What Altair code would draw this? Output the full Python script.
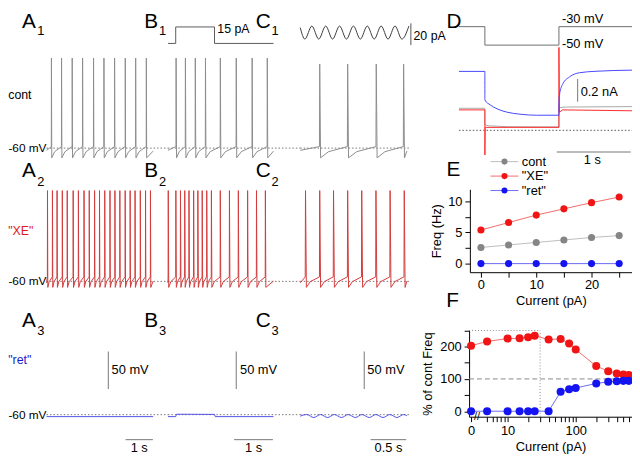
import altair as alt
import pandas as pd

FONT = "Liberation Sans"

# ================= values =================
ROW_LABELS = ["cont", '"XE"', '"ret"']
ROW_LABEL_COLORS = ["#000000", "#e01818", "#1a1acc"]
TRACE_COLORS = ["#8c8c8c", "#d23c3c", "#5050e6"]

# spike times (s)
A1_SPIKES = [0.18, 0.55, 0.94, 1.32, 1.72, 2.10, 2.49, 2.88, 3.26, 3.65]
B1_SPIKES = [0.21, 0.45, 0.705, 0.967, 1.35, 1.76, 2.17, 2.56]
C1_SPIKES = [0.274, 0.667, 1.069, 1.454]
A2_SPIKES = [0.036, 0.217, 0.386, 0.578, 0.758, 0.975, 1.166, 1.372, 1.563, 1.758,
             1.938, 2.13, 2.321, 2.502, 2.682, 2.877, 3.058, 3.238, 3.43, 3.621, 3.801]
B2_SPIKES = [0.008, 0.204, 0.323, 0.433, 0.542, 0.662, 0.771, 0.883, 1.0, 1.12,
             1.349, 1.585, 1.814, 2.053, 2.282, 2.511]
C2_SPIKES = [0.074, 0.274, 0.468, 0.667, 0.865, 1.065, 1.264, 1.463]
DURATION = {"A": 3.9, "B": 2.72, "C": 1.5}
# membrane levels (mV): start, threshold, peak, trough
ROW1_LEVELS = (-63, -58, 60, -73)
ROW2_LEVELS = (-62, -54, 61, -68)
C1_PEAK = 52

# B: 1 s current step of 15 pA
STEP_T = [0.0, 0.2, 0.2, 1.2, 1.2, 2.72]
STEP_I = [0, 0, 15, 15, 0, 0]
# C: sinusoidal current, extrema (pA)
SINE_T = [0.0, 0.065, 0.163, 0.26, 0.358, 0.455, 0.553, 0.65, 0.748, 0.845, 0.943,
          1.04, 1.138, 1.235, 1.333, 1.43, 1.528]
SINE_I = [4.5, -6, 6, -6, 6, -6, 6, -6, 6, -6, 6, -6, 6, -6, 6, -6, 6]
# "ret" traces (mV)
RET_A_T = [0.0, 3.9]
RET_A_V = [-62.6, -62.6]
RET_B_T = [0.0, 0.2, 0.22, 1.2, 1.22, 2.72]
RET_B_V = [-62.6, -62.6, -59.4, -59.6, -62.6, -62.6]
RET_C_T = [0.0, 0.09, 0.19, 0.285, 0.385, 0.48, 0.58, 0.675, 0.775, 0.87, 0.97,
           1.065, 1.165, 1.26, 1.36, 1.455, 1.5]
RET_C_V = [-62, -59.8, -63.8, -59.8, -63.8, -59.8, -63.8, -59.8, -63.8, -59.8, -63.8,
           -59.8, -63.8, -59.8, -63.8, -59.8, -61.5]

# D: voltage-clamp (command in mV, currents in nA)
D_CMD_T = [-0.35, 0, 0, 1, 1, 1.99]
D_CMD_V = [-30, -30, -50, -50, -30, -30]
D_BLUE_T = [-0.35, 0, 0, 0.075, 0.165, 0.298, 0.476, 0.698, 1.0, 1.0, 1.009, 1.053,
            1.142, 1.276, 1.5, 1.99]
D_BLUE_I = [0.519, 0.519, 0.267, 0.223, 0.189, 0.16, 0.142, 0.133, 0.133, 0.25, 0.32,
            0.41, 0.47, 0.507, 0.52, 0.53]
D_RED_T = [-0.35, 0, 0, 0.004, 0.02, 1.0, 1.0, 1.006, 1.05, 1.99]
D_RED_I = [0.18, 0.18, -0.217, 0.03, 0.026, 0.026, 0.73, 0.16, 0.18, 0.172]
D_GRAY_T = [-0.35, 0, 0, 0.05, 0.3, 1.0, 1.0, 1.1, 1.99]
D_GRAY_I = [0.194, 0.194, 0.05, 0.04, 0.032, 0.03, 0.2, 0.205, 0.209]

# E: firing frequency (Hz) vs injected current (pA)
E_CURRENT = [0, 5, 10, 15, 20, 25]
E_CONT = [2.6, 3.0, 3.4, 3.8, 4.2, 4.5]
E_XE = [5.4, 6.6, 7.8, 8.8, 9.8, 10.7]
E_RET = [0, 0, 0, 0, 0, 0]

# F: % of control frequency vs current (pA)
F_CURRENT = [0, 5, 10, 15, 20, 25, 40, 60, 80, 100, 200, 300, 400, 500, 600]
F_XE = [203, 216, 225, 226, 229, 234, 222, 224, 210, 191, 140, 124, 117, 114, 112]
F_RET = [0, 0, 0, 0, 0, 0, 0, 60, 68, 72, 86, 91, 93, 94, 94]
ZERO_POS = 2.91  # where the "0" of the broken log axis sits

SERIES = ["cont", '"XE"', '"ret"']
LINE_COLORS = ["#bdbdbd", "#f26b6b", "#6b6bf2"]
DOT_COLORS = ["#858585", "#f01414", "#1414f0"]

# ================= layout helpers (reference px -> chart px) =================
W, H = 632, 451


def LX(x):
    return x - 6.0


def RX(x):
    return x - 8.0


def Y(y):
    return y - 8.0


def lin(d0, d1, p0, p1):
    return alt.Scale(type="linear", domain=[d0, d1], range=[p0, p1], nice=False, zero=False)


def panel(xs, ys, xa=None, ya=None):
    return {"xs": xs, "ys": ys, "xa": xa, "ya": ya}


def xe(p, f="t"):
    return alt.X(f + ":Q", scale=p["xs"], axis=p["xa"])


def ye(p, f="v"):
    return alt.Y(f + ":Q", scale=p["ys"], axis=p["ya"])


def line(p, ts, vs, color, width=1.0, dash=None, interp="linear"):
    df = pd.DataFrame({"t": ts, "v": vs, "i": list(range(len(ts)))})
    kw = {"color": color, "strokeWidth": width, "interpolate": interp}
    if dash is not None:
        kw["strokeDash"] = dash
    return alt.Chart(df).mark_line(**kw).encode(x=xe(p), y=ye(p), order="i:Q")


def segs(p, rows, color, width=1.0, dash=None):
    df = pd.DataFrame(rows, columns=["t", "v", "t2", "v2"])
    kw = {"color": color, "strokeWidth": width}
    if dash is not None:
        kw["strokeDash"] = dash
    return alt.Chart(df).mark_rule(**kw).encode(x=xe(p), y=ye(p), x2="t2:Q", y2="v2:Q")


def texts(p, rows, size=13, color="black", align="left", baseline="middle"):
    df = pd.DataFrame(rows, columns=["t", "v", "label"])
    return alt.Chart(df).mark_text(font=FONT, fontSize=size, color=color, align=align,
                                   baseline=baseline).encode(x=xe(p), y=ye(p), text="label:N")


def dots(p, ts, vs, color, size):
    df = pd.DataFrame({"t": ts, "v": vs})
    return alt.Chart(df).mark_circle(color=color, size=size, opacity=1).encode(x=xe(p), y=ye(p))


def letter(p, t, v, t2, v2, L, sub):
    return [texts(p, [(t, v, L)], size=21, baseline="alphabetic"),
            texts(p, [(t2, v2, sub)], size=13, baseline="alphabetic")]


def spike_trace(spikes, t_end, levels, peak=None):
    v0, thr, pk, trough = levels
    if peak is not None:
        pk = peak
    ts, vs = [0.0], [v0]
    for k, s in enumerate(spikes):
        ts += [max(s - 0.004, 0.001), s, s + 0.012]
        vs += [thr, pk, trough]
        if k + 1 < len(spikes):
            nxt = spikes[k + 1]
            ts.append(s + 0.012 + 0.3 * (nxt - s - 0.016))
            vs.append(trough + 0.55 * (thr - trough))
        else:
            ts.append(t_end)
            vs.append(trough + 0.6 * (thr - trough))
    return ts, vs


# ================= trace panels (A, B, C x 3 rows) =================
ROW_BASE = [147, 282, 417]
MV_PX = 0.76
XS = {
    "A": lin(0, 1, LX(45), LX(45 + 27.7)),
    "B": lin(0, 1, LX(168), LX(168 + 39.3)),
    "C": lin(0, 1, LX(302), LX(302 + 72)),
}
DOT_END = {"A": 4.44, "B": 3.41, "C": 1.53}
LETTER_X = {"A": (-0.90, -0.343), "B": (-0.611, -0.229), "C": (-0.625, -0.403)}
LETTER_V = [(100.5, 91.3), (79.5, 67.6), (57.1, 46.6)]
ROW_LABEL_V = [11.05, 7.1, 12.4]

SPIKES = [
    {"A": A1_SPIKES, "B": B1_SPIKES, "C": C1_SPIKES},
    {"A": A2_SPIKES, "B": B2_SPIKES, "C": C2_SPIKES},
]

groups = []
for r in range(3):
    base = ROW_BASE[r]
    ys = lin(-60, 40, Y(base), Y(base - 100 * MV_PX))
    for col in ["A", "B", "C"]:
        p = panel(XS[col], ys)
        layers = [segs(p, [(0, -60, DOT_END[col], -60)], "#777777", 1, [1.5, 2])]
        if r < 2:
            lv = ROW1_LEVELS if r == 0 else ROW2_LEVELS
            pk = C1_PEAK if (r == 0 and col == "C") else None
            ts, vs = spike_trace(SPIKES[r][col], DURATION[col], lv, pk)
            layers.append(line(p, ts, vs, TRACE_COLORS[r], 1.0))
        else:
            if col == "A":
                layers.append(line(p, RET_A_T, RET_A_V, TRACE_COLORS[2], 1.0))
            elif col == "B":
                layers.append(line(p, RET_B_T, RET_B_V, TRACE_COLORS[2], 1.0))
            else:
                layers.append(line(p, RET_C_T, RET_C_V, TRACE_COLORS[2], 1.0, interp="monotone"))
        lx = LETTER_X[col]
        lv_ = LETTER_V[r]
        layers += letter(p, lx[0], lv_[0], lx[1], lv_[1], col, str(r + 1))
        if col == "A":
            layers.append(texts(p, [(-0.0, -60, "-60 mV")], size=12, align="right"))
            layers.append(texts(p, [(-1.40, ROW_LABEL_V[r], ROW_LABELS[r])], size=12.5,
                                color=ROW_LABEL_COLORS[r]))
        if r == 2:
            bar = {"A": (2.26, 2.38, 2.89, 3.89, "1 s"),
                   "B": (1.76, 1.857, 1.705, 2.705, "1 s"),
                   "C": (0.90, 0.944, 0.99, 1.49, "0.5 s")}[col]
            layers.append(segs(p, [(bar[0], -25.8, bar[0], 24.2),
                                   (bar[2], -93.3, bar[3], -93.3)], "#777777", 1))
            layers.append(texts(p, [(bar[1], -0.8, "50 mV")], size=13))
            layers.append(texts(p, [((bar[2] + bar[3]) / 2, -104.7, bar[4])], size=13,
                                align="center"))
        groups.append(alt.layer(*layers))

# stimulus insets (row 1)
pS = panel(XS["B"], lin(0, 15, Y(41), Y(24.3)))
groups.append(alt.layer(line(pS, STEP_T, STEP_I, "#5a5a5a", 1.0),
                        texts(pS, [(1.272, 12.8, "15 pA")], size=12.5)))
pC = panel(XS["C"], lin(0, 10, Y(30), Y(19)))
groups.append(alt.layer(line(pC, SINE_T, SINE_I, "#3c3c3c", 1.0, interp="monotone"),
                        segs(pC, [(1.556, -11.5, 1.556, 8.5)], "#555555", 1),
                        texts(pC, [(1.593, -3, "20 pA")], size=12.5)))

# ================= D =================
DX = lin(0, 1, RX(491), RX(566))
pDc = panel(DX, lin(-50, -30, Y(42.7), Y(24)))
groups.append(alt.layer(
    line(pDc, D_CMD_T, D_CMD_V, "#6e6e6e", 1.0),
    texts(pDc, [(1.04, -21.5, "-30 mV"), (1.04, -49.3, "-50 mV")], size=13),
))
pDi = panel(DX, lin(0, 0.2, Y(129), Y(106)))
groups.append(alt.layer(
    segs(pDi, [(-0.35, 0, 1.99, 0)], "#555555", 1, [1.5, 2]),
    line(pDi, D_GRAY_T, D_GRAY_I, "#a8a8a8", 1.0),
    line(pDi, D_RED_T, D_RED_I, "#ff2a2a", 1.0),
    line(pDi, D_BLUE_T, D_BLUE_I, "#4646ff", 1.0, interp="monotone"),
    segs(pDi, [(1.253, 0.252, 1.253, 0.452), (0.97, -0.191, 1.97, -0.191)], "#777777", 1),
    texts(pDi, [(1.293, 0.339, "0.2 nA")], size=13),
    texts(pDi, [(1.45, -0.261, "1 s")], size=13, align="center"),
    texts(pDi, [(-0.52, 0.904, "D")], size=21, baseline="alphabetic"),
))

# ================= E =================
E_XAXIS = alt.Axis(orient="bottom", offset=-(H - Y(272.7)), values=[0, 5, 10, 15, 20, 25],
                   labelExpr="datum.value % 10 == 0 ? datum.label : ''",
                   title="Current (pA)", grid=False, tickSize=5, labelPadding=2,
                   titlePadding=3)
E_YAXIS = alt.Axis(orient="left", offset=-RX(475.8), values=[0, 2.5, 5, 7.5, 10],
                   labelExpr="datum.value % 5 == 0 ? datum.label : ''",
                   title="Freq (Hz)", grid=False, tickSize=5, labelPadding=3,
                   titlePadding=4)
pE = panel(lin(-2, 27.3, RX(475.8), RX(639.9)), lin(-1.38, 11.95, Y(272.7), Y(188.7)),
           E_XAXIS, E_YAXIS)
e_layers = []
for vals, lc in zip([E_CONT, E_XE, E_RET], LINE_COLORS):
    e_layers.append(line(pE, E_CURRENT, vals, lc, 1.0))
for vals, dc in zip([E_CONT, E_XE, E_RET], DOT_COLORS):
    e_layers.append(dots(pE, E_CURRENT, vals, dc, 52))
e_layers.append(texts(pE, [(-6.25, 14.1, "E")], size=21, baseline="alphabetic"))
groups.append(alt.layer(*e_layers))

# legend of E
pL = panel(lin(0, 1, RX(496.7), RX(525)), lin(0, 2, Y(160.7), Y(190)))
leg = []
for k, name in enumerate(SERIES):
    leg.append(segs(pL, [(0, k, 1, k)], LINE_COLORS[k], 1))
    leg.append(dots(pL, [0.5], [k], DOT_COLORS[k], 38))
    leg.append(texts(pL, [(1.12, k, name)], size=13))
groups.append(alt.layer(*leg))

# ================= F =================
F_X = [ZERO_POS if c == 0 else c for c in F_CURRENT]
F_TICKS = [ZERO_POS, 5, 6, 7, 8, 9, 10, 20, 30, 40, 50, 60, 70, 80, 90, 100,
           200, 300, 400, 500, 600]
F_XAXIS = alt.Axis(orient="bottom", offset=-(H - Y(419.06)), values=F_TICKS,
                   labelExpr="datum.value < 4 ? '0' : (datum.value == 10 || datum.value == 100) ? format(datum.value, 'd') : ''",
                   title="Current (pA)", grid=False, tickSize=5, labelPadding=3,
                   titlePadding=3)
F_YAXIS = alt.Axis(orient="left", offset=-RX(475), values=[0, 50, 100, 150, 200, 250],
                   labelExpr="datum.value % 100 == 0 ? datum.label : ''",
                   title="% of cont Freq", grid=False, tickSize=5, labelPadding=3,
                   titlePadding=5)
pF = panel(alt.Scale(type="log", domain=[2.72, 670], range=[RX(475), RX(640)], nice=False),
           lin(-17, 250, Y(419.06), Y(331.75)), F_XAXIS, F_YAXIS)
groups.append(alt.layer(
    segs(pF, [(2.72, 250, 30, 250), (30, -17, 30, 250)], "#8a8a8a", 1, [1, 2]),
    segs(pF, [(2.72, 100, 670, 100)], "#8a8a8a", 1, [5, 3]),
    line(pF, F_X, F_XE, LINE_COLORS[1], 1.0),
    line(pF, F_X, F_RET, LINE_COLORS[2], 1.0),
    dots(pF, F_X, F_XE, DOT_COLORS[1], 66),
    dots(pF, F_X, F_RET, DOT_COLORS[2], 66),
    texts(pF, [(3.55, -17, "//")], size=11, align="center"),
    texts(pF, [(1.26, 322.6, "F")], size=21, baseline="alphabetic"),
))

chart = alt.layer(*groups).resolve_scale(x="independent", y="independent").properties(
    width=W, height=H, padding=0, autosize=alt.AutoSizeParams(type="none")
).configure_view(strokeWidth=0).configure_axis(
    labelFont=FONT, titleFont=FONT, labelFontSize=13, titleFontSize=13,
    titleFontWeight="normal", labelColor="black", titleColor="black",
    domainColor="black", tickColor="black", grid=False
)

chart.save("out.html", embed_options={"renderer": "svg", "actions": False})
